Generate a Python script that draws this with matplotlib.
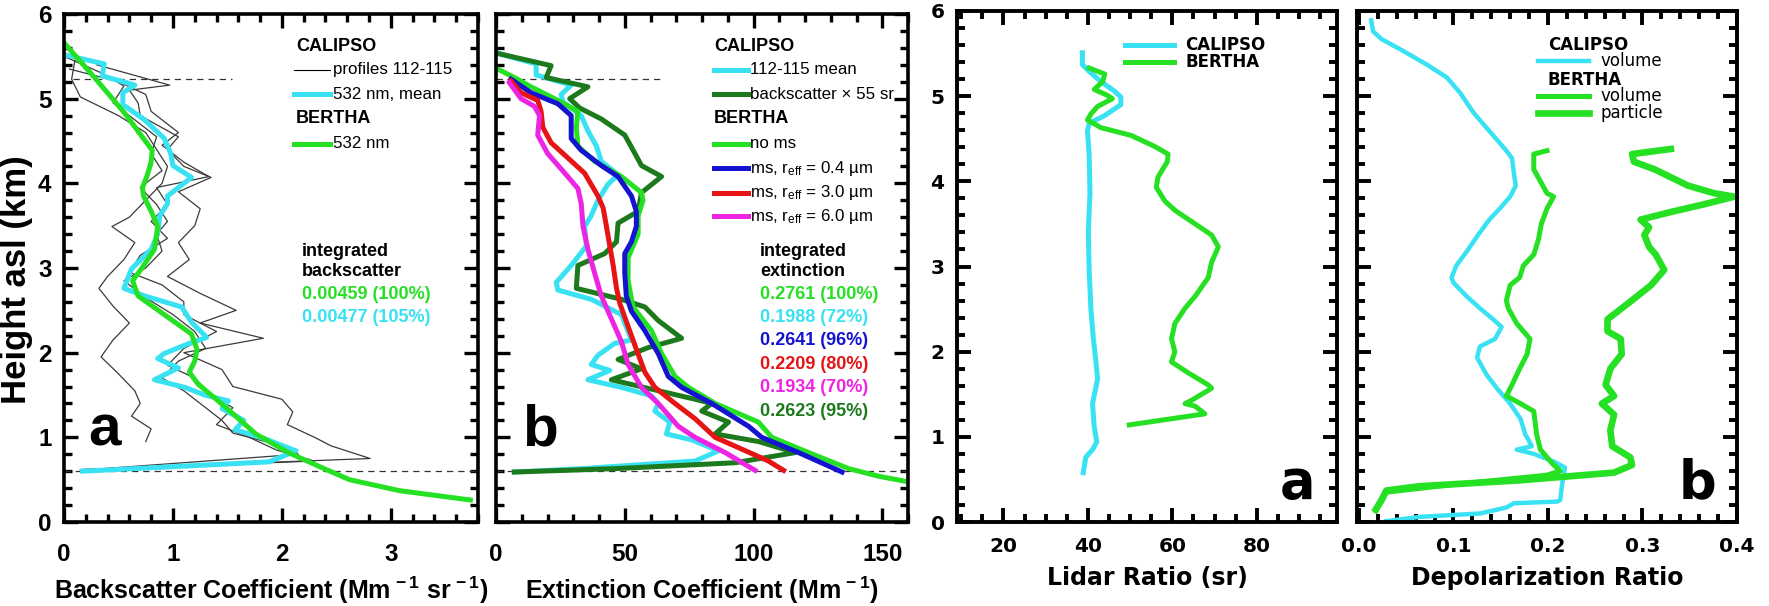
import matplotlib
matplotlib.use("Agg")
import matplotlib.pyplot as plt
from matplotlib.ticker import MultipleLocator, FixedLocator, FormatStrFormatter

plt.rcParams['font.family'] = ['Liberation Sans', 'DejaVu Sans']
plt.rcParams['mathtext.fontset'] = 'custom'
plt.rcParams['mathtext.rm'] = 'Liberation Sans'
plt.rcParams['mathtext.bf'] = 'Liberation Sans:bold'
plt.rcParams['mathtext.it'] = 'Liberation Sans:italic'

CYAN = '#38e2f2'
GREEN = '#26e024'
DKGREEN = '#1c7a1c'
BLUE = '#1414d0'
RED = '#e61414'
MAGENTA = '#ee24e4'

# ---------------- backscatter profiles (Mm-1 sr-1) vs height (km) ----------------
bsc_bertha_x = [0.00, 0.28, 0.55, 0.81, 0.80, 0.76, 0.72, 0.73, 0.80, 0.86, 0.83, 0.71,
                0.63, 0.68, 0.92, 1.17, 1.22, 1.20, 1.15, 1.23, 1.48, 1.76, 2.06, 2.37,
                2.62, 3.08, 3.73]
bsc_bertha_z = [5.66, 5.25, 4.84, 4.39, 4.25, 4.08, 3.95, 3.85, 3.67, 3.49, 3.22, 2.99,
                2.85, 2.67, 2.45, 2.22, 2.04, 1.90, 1.77, 1.63, 1.36, 1.04, 0.82, 0.64,
                0.50, 0.37, 0.26]

bsc_cal_x = [0.00, 0.37, 0.35, 0.65, 0.54, 0.54, 0.74, 0.92, 0.98, 1.00, 1.17, 0.95,
             0.95, 0.88, 0.86, 0.80, 0.62, 0.55, 0.74, 1.08, 1.17, 1.31, 1.15, 0.92,
             0.86, 1.05, 0.83, 1.11, 1.29, 1.51, 1.45, 1.65, 1.57, 1.85, 2.13, 1.88, 0.17]
bsc_cal_z = [5.52, 5.41, 5.27, 5.16, 5.07, 4.93, 4.75, 4.53, 4.35, 4.21, 4.07, 3.85,
             3.76, 3.62, 3.40, 3.22, 2.99, 2.76, 2.67, 2.54, 2.36, 2.18, 2.11, 1.99,
             1.93, 1.82, 1.68, 1.59, 1.50, 1.43, 1.34, 1.20, 1.09, 0.98, 0.84, 0.71, 0.60]

prof112_x = [0.30, 0.97, 0.60, 0.68, 0.70, 1.05, 0.95, 1.10, 1.35, 1.05, 1.25, 1.20,
             1.05, 1.15, 0.95, 1.25, 1.58, 1.25, 1.83, 1.10, 1.45, 1.55, 2.00, 2.10,
             2.05, 2.30, 2.45, 2.81, 0.15]
prof112_z = [5.40, 5.16, 5.10, 4.95, 4.80, 4.55, 4.40, 4.20, 4.07, 3.90, 3.70, 3.50,
             3.30, 3.10, 2.90, 2.70, 2.50, 2.35, 2.17, 2.00, 1.80, 1.60, 1.45, 1.30,
             1.15, 1.00, 0.90, 0.75, 0.62]

prof113_x = [0.10, 0.07, 0.15, 0.50, 0.75, 0.85, 0.95, 0.90, 0.75, 0.60, 0.44, 0.65,
             0.55, 0.40, 0.32, 0.45, 0.60, 0.45, 0.34, 0.50, 0.65, 0.70, 0.62, 0.80, 0.75]
prof113_z = [5.45, 5.23, 5.02, 4.80, 4.60, 4.40, 4.20, 4.00, 3.80, 3.60, 3.49, 3.30,
             3.10, 2.90, 2.76, 2.55, 2.35, 2.15, 1.95, 1.75, 1.55, 1.40, 1.25, 1.10, 0.95]

prof114_x = [0.05, 0.50, 0.75, 0.80, 1.05, 0.90, 1.10, 1.33, 0.85, 0.95, 0.80, 0.95,
             0.70, 0.60, 0.90, 1.10, 1.10, 1.40, 1.10, 0.95, 1.20, 1.35, 1.55, 1.40,
             1.70, 1.95, 2.30, 0.20]
prof114_z = [5.35, 5.20, 5.05, 4.85, 4.60, 4.45, 4.25, 4.08, 3.95, 3.75, 3.55, 3.35,
             3.15, 2.95, 2.80, 2.60, 2.45, 2.25, 2.05, 1.85, 1.70, 1.50, 1.35, 1.15,
             1.00, 0.85, 0.72, 0.62]

prof115_x = [0.00, 0.35, 0.55, 0.45, 0.65, 0.85, 0.80, 0.90, 0.70, 0.85, 0.95, 0.85,
             0.90, 0.75, 0.55, 0.75, 1.00, 1.20, 1.30, 1.05, 0.90, 1.10, 1.25, 1.45,
             1.55, 2.00, 2.15, 0.25]
prof115_z = [5.50, 5.30, 5.15, 4.95, 4.75, 4.55, 4.35, 4.15, 3.95, 3.75, 3.55, 3.40,
             3.20, 3.00, 2.85, 2.65, 2.45, 2.25, 2.05, 1.90, 1.70, 1.55, 1.40, 1.20,
             1.05, 0.90, 0.80, 0.62]

# ---------------- extinction profiles (Mm-1) vs height (km) ----------------
ext_cal_x = [1.3, 15.6, 15.6, 29.2, 25.3, 26.0, 33.1, 35.7, 39.0, 40.9, 47.4, 43.5,
             39.6, 37.0, 34.4, 35.1, 29.2, 23.4, 24.0, 37.0, 48.7, 52.6, 46.1, 39.6,
             37.0, 44.2, 35.7, 48.7, 60.4, 63.0, 61.7, 67.5, 66.2, 76.0, 86.4, 77.3,
             33.1, 7.1]
ext_cal_z = [5.53, 5.41, 5.28, 5.16, 5.05, 4.96, 4.80, 4.62, 4.44, 4.26, 4.10, 3.99,
             3.80, 3.62, 3.49, 3.26, 3.03, 2.83, 2.74, 2.63, 2.45, 2.15, 2.11, 1.97,
             1.86, 1.79, 1.68, 1.59, 1.49, 1.40, 1.31, 1.18, 1.04, 0.97, 0.84, 0.72,
             0.63, 0.59]

ext_bsc55_x = [1.3, 21.4, 19.5, 35.7, 28.6, 32.5, 40.9, 50.0, 54.0, 56.5, 64.3, 56.5,
               55.2, 47.4, 46.8, 42.2, 31.8, 31.2, 48.7, 57.8, 63.0, 72.1, 59.1, 47.4,
               56.5, 44.8, 61.7, 77.3, 83.8, 79.9, 90.3, 85.1, 102.0, 116.2, 92.9,
               46.1, 7.1]
ext_bsc55_z = [5.53, 5.39, 5.25, 5.14, 5.00, 4.89, 4.76, 4.57, 4.35, 4.21, 4.08, 3.89,
               3.67, 3.53, 3.31, 3.17, 3.03, 2.76, 2.63, 2.54, 2.38, 2.17, 2.06, 1.92,
               1.81, 1.68, 1.56, 1.45, 1.40, 1.31, 1.18, 1.04, 0.95, 0.82, 0.70,
               0.63, 0.59]

ext_noms_x = [1.3, 7.1, 13.6, 24.0, 31.8, 31.2, 31.8, 38.3, 48.7, 56.5, 57.1, 55.2,
              55.2, 51.3, 51.3, 53.2, 60.4, 64.3, 69.5, 74.7, 85.1, 101.9, 107.1,
              121.4, 137.0, 148.7, 159.1]
ext_noms_z = [5.34, 5.25, 5.14, 4.98, 4.85, 4.66, 4.44, 4.26, 4.08, 3.89, 3.80, 3.62,
              3.40, 3.12, 2.85, 2.54, 2.26, 1.99, 1.72, 1.59, 1.40, 1.18, 1.00,
              0.82, 0.63, 0.54, 0.48]

ext_ms04_x = [5.8, 13.6, 24.0, 29.2, 29.2, 33.1, 40.9, 47.4, 52.6, 54.5, 54.5, 52.6,
              50.0, 50.0, 50.6, 52.6, 57.8, 63.0, 66.9, 72.1, 83.8, 98.1, 103.2,
              117.5, 134.4]
ext_ms04_z = [5.23, 5.07, 4.94, 4.80, 4.53, 4.39, 4.21, 4.08, 3.85, 3.67, 3.49, 3.31,
              3.17, 2.94, 2.67, 2.49, 2.26, 1.99, 1.72, 1.59, 1.40, 1.13, 1.00,
              0.82, 0.59]

ext_ms30_x = [5.8, 9.7, 16.2, 17.5, 18.2, 21.4, 27.9, 34.4, 39.6, 41.6, 42.9, 44.2,
              45.5, 46.8, 48.1, 51.3, 54.5, 57.8, 61.7, 69.5, 77.3, 85.1, 95.5,
              105.8, 111.7]
ext_ms30_z = [5.21, 5.07, 4.98, 4.85, 4.66, 4.48, 4.30, 4.12, 3.85, 3.71, 3.49, 3.26,
              3.03, 2.76, 2.58, 2.31, 2.04, 1.77, 1.59, 1.40, 1.22, 1.00, 0.86,
              0.72, 0.61]

ext_ms60_x = [5.2, 9.7, 14.9, 16.9, 16.2, 20.1, 25.3, 31.8, 33.1, 33.8, 35.7, 38.3,
              40.9, 44.8, 48.7, 51.3, 56.5, 63.0, 70.8, 77.3, 89.0, 100.6]
ext_ms60_z = [5.19, 5.00, 4.91, 4.80, 4.57, 4.35, 4.17, 3.94, 3.76, 3.49, 3.22, 2.94,
              2.67, 2.40, 2.13, 1.86, 1.59, 1.40, 1.13, 1.00, 0.82, 0.61]

# ---------------- lidar ratio (sr) ----------------
lr_cal_x = [38.7, 38.7, 39.9, 43.1, 46.3, 47.8, 47.8, 43.9, 40.3, 39.9, 40.3, 40.5,
            40.1, 40.3, 40.7, 41.3, 41.9, 42.3, 41.1, 41.5, 42.1, 41.1, 39.5, 38.9]
lr_cal_z = [5.51, 5.37, 5.31, 5.17, 5.06, 4.99, 4.90, 4.77, 4.68, 4.59, 4.32, 3.86,
            3.41, 2.96, 2.51, 2.15, 1.88, 1.68, 1.39, 1.12, 0.94, 0.85, 0.76, 0.58]

lr_bertha_x = [40.3, 44.0, 43.5, 41.5, 44.6, 45.8, 42.3, 40.7, 39.9, 43.1, 50.2, 55.8,
               59.0, 58.8, 56.6, 56.2, 58.2, 60.6, 65.4, 69.3, 70.9, 69.3, 68.5, 65.4,
               63.0, 60.6, 59.8, 60.6, 59.8, 63.8, 68.5, 69.3, 64.6, 63.0, 65.4, 67.7,
               49.8]
lr_bertha_z = [5.33, 5.26, 5.17, 5.08, 5.01, 4.97, 4.88, 4.79, 4.72, 4.63, 4.54, 4.41,
               4.32, 4.23, 4.05, 3.93, 3.77, 3.66, 3.50, 3.37, 3.23, 3.05, 2.87, 2.65,
               2.51, 2.33, 2.15, 2.00, 1.88, 1.75, 1.61, 1.57, 1.43, 1.39, 1.36, 1.27,
               1.14]

# ---------------- depolarization ratio ----------------
dep_cal_x = [0.013, 0.015, 0.024, 0.047, 0.072, 0.093, 0.107, 0.121, 0.131, 0.142,
             0.156, 0.162, 0.164, 0.166, 0.160, 0.149, 0.138, 0.126, 0.115, 0.103,
             0.098, 0.100, 0.114, 0.128, 0.142, 0.151, 0.144, 0.128, 0.125, 0.135,
             0.146, 0.160, 0.171, 0.176, 0.183, 0.167, 0.185, 0.206, 0.218, 0.215,
             0.213, 0.210, 0.164, 0.156, 0.128, 0.064, 0.029]
dep_cal_z = [5.89, 5.76, 5.67, 5.53, 5.37, 5.22, 5.04, 4.81, 4.68, 4.54,
             4.36, 4.27, 4.09, 3.95, 3.82, 3.68, 3.55, 3.37, 3.19, 3.01,
             2.87, 2.81, 2.65, 2.51, 2.38, 2.29, 2.15, 2.06, 1.93, 1.73,
             1.57, 1.39, 1.21, 1.03, 0.89, 0.85, 0.80, 0.71, 0.64, 0.44,
             0.26, 0.24, 0.22, 0.17, 0.10, 0.06, 0.01]

dep_bvol_x = [0.199, 0.185, 0.185, 0.192, 0.199, 0.206, 0.199, 0.193, 0.190, 0.185,
              0.174, 0.170, 0.160, 0.156, 0.158, 0.167, 0.181, 0.178, 0.170, 0.162,
              0.156, 0.171, 0.185, 0.188, 0.192, 0.206, 0.213, 0.199, 0.100, 0.029,
              0.025, 0.020, 0.018]
dep_bvol_z = [4.36, 4.32, 4.14, 4.00, 3.86, 3.82, 3.68, 3.50, 3.32, 3.14,
              3.01, 2.87, 2.78, 2.60, 2.51, 2.33, 2.15, 1.97, 1.80, 1.61,
              1.48, 1.39, 1.30, 1.03, 0.85, 0.67, 0.60, 0.55, 0.44, 0.35,
              0.26, 0.17, 0.13]

dep_bpar_x = [0.330, 0.289, 0.291, 0.313, 0.348, 0.376, 0.397, 0.365, 0.330, 0.298,
              0.307, 0.302, 0.307, 0.314, 0.323, 0.309, 0.284, 0.263, 0.263, 0.277,
              0.278, 0.266, 0.261, 0.270, 0.257, 0.270, 0.266, 0.268, 0.287, 0.289,
              0.270, 0.171, 0.064, 0.029, 0.024, 0.018]
dep_bpar_z = [4.38, 4.32, 4.23, 4.14, 3.95, 3.86, 3.82, 3.73, 3.64, 3.55,
              3.46, 3.37, 3.23, 3.14, 2.96, 2.78, 2.56, 2.38, 2.24, 2.15,
              1.97, 1.80, 1.61, 1.48, 1.39, 1.26, 1.08, 0.89, 0.76, 0.67,
              0.58, 0.49, 0.42, 0.37, 0.26, 0.15]

# ---------------- figure ----------------
W, H = 1769, 606
fig = plt.figure(figsize=(W / 100, H / 100), dpi=100)


def box(left, right, top, bottom):
    return [left / W, 1 - bottom / H, (right - left) / W, (bottom - top) / H]


ax_a = fig.add_axes(box(64, 478, 14, 522))
ax_b = fig.add_axes(box(496, 908, 14, 522))
ax_c = fig.add_axes(box(957, 1337, 11, 522))
ax_d = fig.add_axes(box(1357, 1737, 11, 522))


def frame(ax, lw=2.6, major=10, minor=5.5, width=2.4):
    for s in ax.spines.values():
        s.set_linewidth(lw)
    ax.tick_params(which='both', direction='in', top=True, right=True, width=width)
    ax.tick_params(which='major', length=major)
    ax.tick_params(which='minor', length=minor)
    ax.yaxis.set_major_locator(MultipleLocator(1))
    ax.yaxis.set_minor_locator(MultipleLocator(0.2))
    ax.set_ylim(0, 6)


LEG = 12.2
BOLD_LEG = 13
LW = 3.6

# ---- panel a: backscatter ----
ax = ax_a
frame(ax)
ax.set_xlim(0, 3.8)
ax.xaxis.set_major_locator(MultipleLocator(1))
ax.xaxis.set_minor_locator(MultipleLocator(0.2))
ax.tick_params(which='major', labelsize=17.5)
ax.tick_params(axis='x', which='major', pad=15)
ax.tick_params(axis='y', which='major', pad=9)
for lab in ax.get_xticklabels() + ax.get_yticklabels():
    lab.set_fontweight('bold')
for px, pz in [(prof112_x, prof112_z), (prof113_x, prof113_z),
               (prof114_x, prof114_z), (prof115_x, prof115_z)]:
    ax.plot(px, pz, color='#3a3a3a', lw=0.9)
ax.plot([0.08, 1.54], [5.23, 5.23], color='#333333', lw=0.9, dashes=(5, 4))
ax.axhline(0.60, color='#333333', lw=0.9, dashes=(5, 4))
ax.plot(bsc_cal_x, bsc_cal_z, color=CYAN, lw=LW)
ax.plot(bsc_bertha_x, bsc_bertha_z, color=GREEN, lw=LW)
ax.text(2.13, 5.62, 'CALIPSO', fontsize=BOLD_LEG, fontweight='bold', va='center')
ax.plot([2.11, 2.44], [5.34, 5.34], color='black', lw=0.8)
ax.text(2.47, 5.34, 'profiles 112-115', fontsize=LEG, va='center')
ax.plot([2.11, 2.44], [5.05, 5.05], color=CYAN, lw=LW)
ax.text(2.47, 5.05, '532 nm, mean', fontsize=LEG, va='center')
ax.text(2.13, 4.76, 'BERTHA', fontsize=BOLD_LEG, fontweight='bold', va='center')
ax.plot([2.11, 2.44], [4.47, 4.47], color=GREEN, lw=LW)
ax.text(2.47, 4.47, '532 nm', fontsize=LEG, va='center')
ax.text(2.18, 3.19, 'integrated', fontsize=BOLD_LEG, fontweight='bold', va='center')
ax.text(2.18, 2.96, 'backscatter', fontsize=BOLD_LEG, fontweight='bold', va='center')
ax.text(2.18, 2.69, '0.00459 (100%)', fontsize=BOLD_LEG, fontweight='bold', va='center', color=GREEN)
ax.text(2.18, 2.42, '0.00477 (105%)', fontsize=BOLD_LEG, fontweight='bold', va='center', color=CYAN)
ax.text(0.22, 0.9, 'a', fontsize=42, fontweight='bold', va='baseline')
ax.text(0.5, -0.135, r'Backscatter Coefficient (Mm$^{\mathbf{\,-1}}$ sr$^{\mathbf{\,-1}}$)',
        transform=ax.transAxes, ha='center', va='center', fontsize=18, fontweight='bold')
fig.text(17 / W, 1 - 280 / H, 'Height asl (km)', rotation=90, ha='center', va='center',
         fontsize=25, fontweight='bold')

# ---- panel b: extinction ----
ax = ax_b
frame(ax)
ax.set_xlim(0, 160)
ax.xaxis.set_major_locator(MultipleLocator(50))
ax.xaxis.set_minor_locator(MultipleLocator(10))
ax.tick_params(which='major', labelsize=17.5)
ax.tick_params(axis='x', which='major', pad=15)
ax.tick_params(axis='y', labelleft=False)
for lab in ax.get_xticklabels():
    lab.set_fontweight('bold')
ax.plot([0, 65], [5.23, 5.23], color='#333333', lw=0.9, dashes=(5, 4))
ax.axhline(0.60, color='#333333', lw=0.9, dashes=(5, 4))
ax.plot(ext_cal_x, ext_cal_z, color=CYAN, lw=LW)
ax.plot(ext_bsc55_x, ext_bsc55_z, color=DKGREEN, lw=LW)
ax.plot(ext_noms_x, ext_noms_z, color=GREEN, lw=LW)
ax.plot(ext_ms04_x, ext_ms04_z, color=BLUE, lw=LW)
ax.plot(ext_ms30_x, ext_ms30_z, color=RED, lw=LW)
ax.plot(ext_ms60_x, ext_ms60_z, color=MAGENTA, lw=LW)
ax.text(84.7, 5.62, 'CALIPSO', fontsize=BOLD_LEG, fontweight='bold', va='center')
legend_rows = [
    (5.34, CYAN, '112-115 mean'),
    (5.05, DKGREEN, 'backscatter × 55 sr'),
    (4.47, GREEN, 'no ms'),
    (4.18, BLUE, r'ms, r$_{\rm eff}$ = 0.4 µm'),
    (3.89, RED, r'ms, r$_{\rm eff}$ = 3.0 µm'),
    (3.61, MAGENTA, r'ms, r$_{\rm eff}$ = 6.0 µm'),
]
for yy, col, lab in legend_rows:
    ax.plot([84.7, 98], [yy, yy], color=col, lw=LW)
    ax.text(98.8, yy, lab, fontsize=LEG, va='center')
ax.text(84.7, 4.76, 'BERTHA', fontsize=BOLD_LEG, fontweight='bold', va='center')
ax.text(102.5, 3.19, 'integrated', fontsize=BOLD_LEG, fontweight='bold', va='center')
ax.text(102.5, 2.96, 'extinction', fontsize=BOLD_LEG, fontweight='bold', va='center')
integ = [('0.2761 (100%)', GREEN), ('0.1988 (72%)', CYAN), ('0.2641 (96%)', BLUE),
         ('0.2209 (80%)', RED), ('0.1934 (70%)', MAGENTA), ('0.2623 (95%)', DKGREEN)]
for i, (txt, col) in enumerate(integ):
    ax.text(102.5, 2.69 - 0.276 * i, txt, fontsize=BOLD_LEG, fontweight='bold', va='center', color=col)
ax.text(10, 0.9, 'b', fontsize=42, fontweight='bold', va='baseline')
ax.text(0.5, -0.135, r'Extinction Coefficient (Mm$^{\mathbf{\,-1}}$)',
        transform=ax.transAxes, ha='center', va='center', fontsize=18, fontweight='bold')

# ---- panels c, d: lidar ratio and depolarization ----
WIDE = 'DejaVu Sans'

ax = ax_c
frame(ax, lw=2.8, major=10, minor=5.5, width=2.8)
ax.set_xlim(9, 99)
ax.xaxis.set_major_locator(MultipleLocator(20))
ax.xaxis.set_minor_locator(MultipleLocator(5))
ax.tick_params(which='major', labelsize=14.5)
ax.tick_params(axis='x', which='major', pad=11)
ax.tick_params(axis='y', which='major', pad=9)
for lab in ax.get_xticklabels() + ax.get_yticklabels():
    lab.set_fontweight('bold')
    lab.set_family(WIDE)
ax.plot(lr_cal_x, lr_cal_z, color=CYAN, lw=LW)
ax.plot(lr_bertha_x, lr_bertha_z, color=GREEN, lw=LW)
ax.plot([48.8, 60.5], [5.6, 5.6], color=CYAN, lw=LW)
ax.plot([48.8, 60.5], [5.4, 5.4], color=GREEN, lw=LW)
ax.text(63.1, 5.6, 'CALIPSO', fontsize=12, fontweight='bold', family=WIDE, va='center')
ax.text(63.1, 5.4, 'BERTHA', fontsize=12, fontweight='bold', family=WIDE, va='center')
ax.text(85.5, 0.28, 'a', fontsize=38, fontweight='bold', family=WIDE, va='baseline')
ax.text(0.5, -0.11, 'Lidar Ratio (sr)', transform=ax.transAxes, ha='center', va='center',
        fontsize=17, fontweight='bold', family=WIDE)

ax = ax_d
frame(ax, lw=2.8, major=10, minor=5.5, width=2.8)
ax.set_xlim(-0.002, 0.4)
ax.xaxis.set_major_locator(FixedLocator([0.0, 0.1, 0.2, 0.3, 0.4]))
ax.xaxis.set_minor_locator(MultipleLocator(0.02))
ax.xaxis.set_major_formatter(FormatStrFormatter('%.1f'))
ax.tick_params(which='major', labelsize=14.5)
ax.tick_params(axis='x', which='major', pad=11)
ax.tick_params(axis='y', labelleft=False)
for lab in ax.get_xticklabels():
    lab.set_fontweight('bold')
    lab.set_family(WIDE)
ax.plot(dep_cal_x, dep_cal_z, color=CYAN, lw=3.2)
ax.plot(dep_bvol_x, dep_bvol_z, color=GREEN, lw=3.6)
ax.plot(dep_bpar_x, dep_bpar_z, color=GREEN, lw=4.8)
ax.text(0.200, 5.60, 'CALIPSO', fontsize=12, fontweight='bold', family=WIDE, va='center')
ax.plot([0.19, 0.243], [5.41, 5.41], color=CYAN, lw=3.2)
ax.text(0.256, 5.41, 'volume', fontsize=12, family=WIDE, va='center')
ax.text(0.200, 5.19, 'BERTHA', fontsize=12, fontweight='bold', family=WIDE, va='center')
ax.plot([0.19, 0.243], [5.00, 5.00], color=GREEN, lw=3.6)
ax.text(0.256, 5.00, 'volume', fontsize=12, family=WIDE, va='center')
ax.plot([0.19, 0.243], [4.80, 4.80], color=GREEN, lw=4.8)
ax.text(0.256, 4.80, 'particle', fontsize=12, family=WIDE, va='center')
ax.text(0.338, 0.28, 'b', fontsize=38, fontweight='bold', family=WIDE, va='baseline')
ax.text(0.5, -0.11, 'Depolarization Ratio', transform=ax.transAxes, ha='center', va='center',
        fontsize=17, fontweight='bold', family=WIDE)

fig.savefig('out.png', dpi=100)
